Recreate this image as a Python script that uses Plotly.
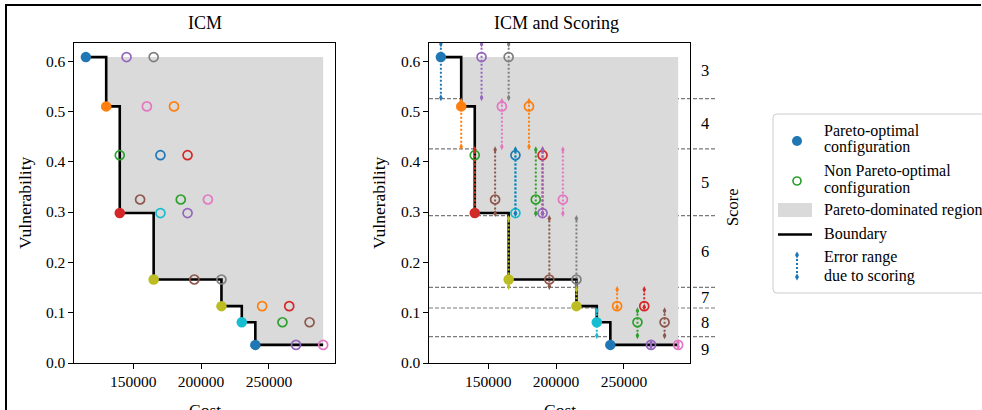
import plotly.graph_objects as go

# ---------------- data ----------------
cost = [115000, 130000, 140000, 140000, 145000, 155000, 160000, 165000, 165000,
        170000, 170000, 180000, 185000, 190000, 190000, 195000, 205000, 215000,
        215000, 230000, 240000, 245000, 260000, 265000, 270000, 280000, 290000]
vulnerability = [0.608, 0.510, 0.413, 0.298, 0.608, 0.325, 0.510, 0.608, 0.166,
                 0.298, 0.413, 0.510, 0.325, 0.413, 0.298, 0.166, 0.325, 0.166,
                 0.113, 0.081, 0.036, 0.113, 0.081, 0.113, 0.036, 0.081, 0.036]
is_pareto = [1, 1, 0, 1, 0, 0, 0, 0, 1,
             0, 0, 0, 0, 0, 0, 0, 0, 0,
             1, 1, 1, 0, 0, 0, 0, 0, 0]

score_edges = [0.5254, 0.4254, 0.2928, 0.1505, 0.1093, 0.0523]
score_labels = ["3", "4", "5", "6", "7", "8", "9"]
score_err_low = [0.527, 0.430, 0.297, 0.152, 0.111, 0.054, 0.033]
score_err_high = [0.634, 0.520, 0.424, 0.287, 0.146, 0.104, 0.040]

x_ticks = [150000, 200000, 250000]
y_ticks = [0.0, 0.1, 0.2, 0.3, 0.4, 0.5, 0.6]
x_range = [106250, 298750]
y_range = [0, 0.636]

TAB10 = ["#1f77b4", "#ff7f0e", "#2ca02c", "#d62728", "#9467bd",
         "#8c564b", "#e377c2", "#7f7f7f", "#bcbd22", "#17becf"]
colors = [TAB10[i % 10] for i in range(len(cost))]

W, H = 982, 410
FONT = "Liberation Serif"


def px(x):
    return x / W


def py(y):
    return 1 - y / H


# ---------------- derived ----------------
par = sorted([(c, v) for c, v, p in zip(cost, vulnerability, is_pareto) if p])
max_cost = max(cost)
step_x = [c for c, _ in par] + [max_cost]
step_y = [v for _, v in par] + [par[-1][1]]

poly = []
for i, (c, v) in enumerate(par):
    poly.append((c, v))
    nxt = par[i + 1][0] if i + 1 < len(par) else max_cost
    poly.append((nxt, v))
poly.append((max_cost, par[0][1]))
poly_path = "M " + " L ".join(f"{x},{y}" for x, y in poly) + " Z"

score_idx = [sum(1 for e in score_edges if v < e) for v in vulnerability]

fig = go.Figure()

for xa, ya in [("x", "y"), ("x2", "y2")]:
    fig.add_trace(go.Scatter(x=step_x, y=step_y, mode="lines", line_shape="hv",
                             line=dict(color="black", width=2.6),
                             xaxis=xa, yaxis=ya, showlegend=False, hoverinfo="skip"))
    pc = [c for c, p in zip(cost, is_pareto) if p]
    pv = [v for v, p in zip(vulnerability, is_pareto) if p]
    pcol = [col for col, p in zip(colors, is_pareto) if p]
    fig.add_trace(go.Scatter(x=pc, y=pv, mode="markers",
                             marker=dict(symbol="circle", size=10.5, color=pcol, line=dict(width=0)),
                             xaxis=xa, yaxis=ya, showlegend=False))
    nc = [c for c, p in zip(cost, is_pareto) if not p]
    nv = [v for v, p in zip(vulnerability, is_pareto) if not p]
    ncol = [col for col, p in zip(colors, is_pareto) if not p]
    fig.add_trace(go.Scatter(x=nc, y=nv, mode="markers",
                             marker=dict(symbol="circle-open", size=9, color=ncol,
                                         line=dict(width=1.7, color=ncol)),
                             xaxis=xa, yaxis=ya, showlegend=False))

for c, v, s, col in zip(cost, vulnerability, score_idx, colors):
    fig.add_trace(go.Scatter(x=[c, c], y=[score_err_low[s], score_err_high[s]],
                             mode="lines+markers",
                             line=dict(color=col, width=2, dash="2px,2px"),
                             marker=dict(symbol="diamond-tall", size=5, color=col),
                             xaxis="x2", yaxis="y2", showlegend=False))

shapes = []
for xr, yr in [("x", "y"), ("x2", "y2")]:
    shapes.append(dict(type="path", xref=xr, yref=yr, path=poly_path,
                       fillcolor="#dadada", line=dict(width=0), layer="below"))
for e in score_edges:
    shapes.append(dict(type="line", xref="paper", yref="y2", x0=px(429), x1=px(717),
                       y0=e, y1=e, line=dict(color="#7a7a7a", width=1.2, dash="4px,2px"),
                       layer="below"))

L, T, B, R = 773, 114, 293, 1010
r = 4
shapes.append(dict(type="path", xref="paper", yref="paper",
                   path=(f"M {px(R)},{py(T)} L {px(L + r)},{py(T)} Q {px(L)},{py(T)} {px(L)},{py(T + r)} "
                         f"L {px(L)},{py(B - r)} Q {px(L)},{py(B)} {px(L + r)},{py(B)} L {px(R)},{py(B)}"),
                   line=dict(color="#cccccc", width=1), fillcolor="rgba(255,255,255,0.8)"))
gx = 797
shapes.append(dict(type="circle", xref="paper", yref="paper",
                   x0=px(gx - 5), x1=px(gx + 5), y0=py(141 + 5), y1=py(141 - 5),
                   fillcolor=TAB10[0], line=dict(width=0)))
shapes.append(dict(type="circle", xref="paper", yref="paper",
                   x0=px(gx - 4), x1=px(gx + 4), y0=py(181 + 4), y1=py(181 - 4),
                   line=dict(color=TAB10[2], width=1.7)))
shapes.append(dict(type="rect", xref="paper", yref="paper",
                   x0=px(778), x1=px(812), y0=py(217), y1=py(203),
                   fillcolor="#dadada", line=dict(width=0)))
shapes.append(dict(type="line", xref="paper", yref="paper",
                   x0=px(778), x1=px(812), y0=py(234.5), y1=py(234.5),
                   line=dict(color="black", width=2.6)))
shapes.append(dict(type="line", xref="paper", yref="paper",
                   x0=px(gx), x1=px(gx), y0=py(255), y1=py(277),
                   line=dict(color=TAB10[0], width=2, dash="2px,2px")))
for yy in (255, 277):
    shapes.append(dict(type="path", xref="paper", yref="paper",
                       path=(f"M {px(gx)},{py(yy - 3.5)} L {px(gx + 2)},{py(yy)} "
                             f"L {px(gx)},{py(yy + 3.5)} L {px(gx - 2)},{py(yy)} Z"),
                       fillcolor=TAB10[0], line=dict(width=0)))

# outer frame (cropped figure border), drawn last
for x0, x1 in [(5, 250), (250, 500), (500, 750), (750, 981)]:
    shapes.append(dict(type="line", xref="paper", yref="paper", x0=px(x0), x1=px(x1),
                       y0=py(5), y1=py(5), line=dict(color="black", width=2)))
shapes.append(dict(type="line", xref="paper", yref="paper", x0=px(6), x1=px(6),
                   y0=0, y1=py(4), line=dict(color="black", width=2)))

ann = []


def text(x, y, s, size=15, xanchor="center", yanchor="middle", angle=0):
    ann.append(dict(x=px(x), y=py(y), xref="paper", yref="paper", text=s, showarrow=False,
                    xanchor=xanchor, yanchor=yanchor, textangle=angle,
                    font=dict(family=FONT, size=size, color="black")))


text(204.5, 23, "ICM", 18)
text(556, 23, "ICM and Scoring", 18)
text(25, 203, "Vulnerability", 17.5, angle=-90)
text(379, 203, "Vulnerability", 17.5, angle=-90)
text(204.5, 398, "Cost", 17.5, yanchor="top")
text(559.5, 398, "Cost", 17.5, yanchor="top")
text(732, 207, "Score", 16.5, angle=-90)

bounds = [y_range[1]] + score_edges + [y_range[0]]
for i, lab in enumerate(score_labels):
    mid = (bounds[i] + bounds[i + 1]) / 2
    ann.append(dict(x=px(705), y=mid, xref="paper", yref="y2", text=lab, showarrow=False,
                    xanchor="center", yanchor="middle",
                    font=dict(family=FONT, size=16.5, color="black")))

leg_lines = [(131, "Pareto-optimal"), (147, "configuration"),
             (171, "Non Pareto-optimal"), (188, "configuration"),
             (210, "Pareto-dominated region"), (234.5, "Boundary"),
             (256.5, "Error range"), (275.5, "due to scoring")]
for yy, s in leg_lines:
    text(822, yy, s, 16, xanchor="left")

axis_common = dict(showline=True, mirror=True, linecolor="black", linewidth=1.1,
                   ticks="outside", ticklen=4.5, tickwidth=1.1, tickcolor="black",
                   showgrid=False, zeroline=False, automargin=False,
                   tickfont=dict(family=FONT, size=15.5, color="black"))

fig.update_layout(
    width=W, height=H, autosize=False,
    margin=dict(l=0, r=0, t=0, b=0, pad=0, autoexpand=False),
    paper_bgcolor="white", plot_bgcolor="white",
    showlegend=False,
    xaxis=dict(domain=[px(74), px(335)], range=x_range, anchor="y",
               tickvals=x_ticks, ticktext=[str(t) for t in x_ticks], **axis_common),
    yaxis=dict(domain=[py(363), py(43)], range=y_range, anchor="x",
               tickvals=y_ticks, ticktext=[f"{t:.1f}" for t in y_ticks], **axis_common),
    xaxis2=dict(domain=[px(429), px(690)], range=x_range, anchor="y2",
                tickvals=x_ticks, ticktext=[str(t) for t in x_ticks], **axis_common),
    yaxis2=dict(domain=[py(363), py(43)], range=y_range, anchor="x2",
                tickvals=y_ticks, ticktext=[f"{t:.1f}" for t in y_ticks], **axis_common),
    shapes=shapes, annotations=ann,
)

fig.write_html("out.html", config={"displayModeBar": False},
               post_script="document.body.style.margin='0';")
